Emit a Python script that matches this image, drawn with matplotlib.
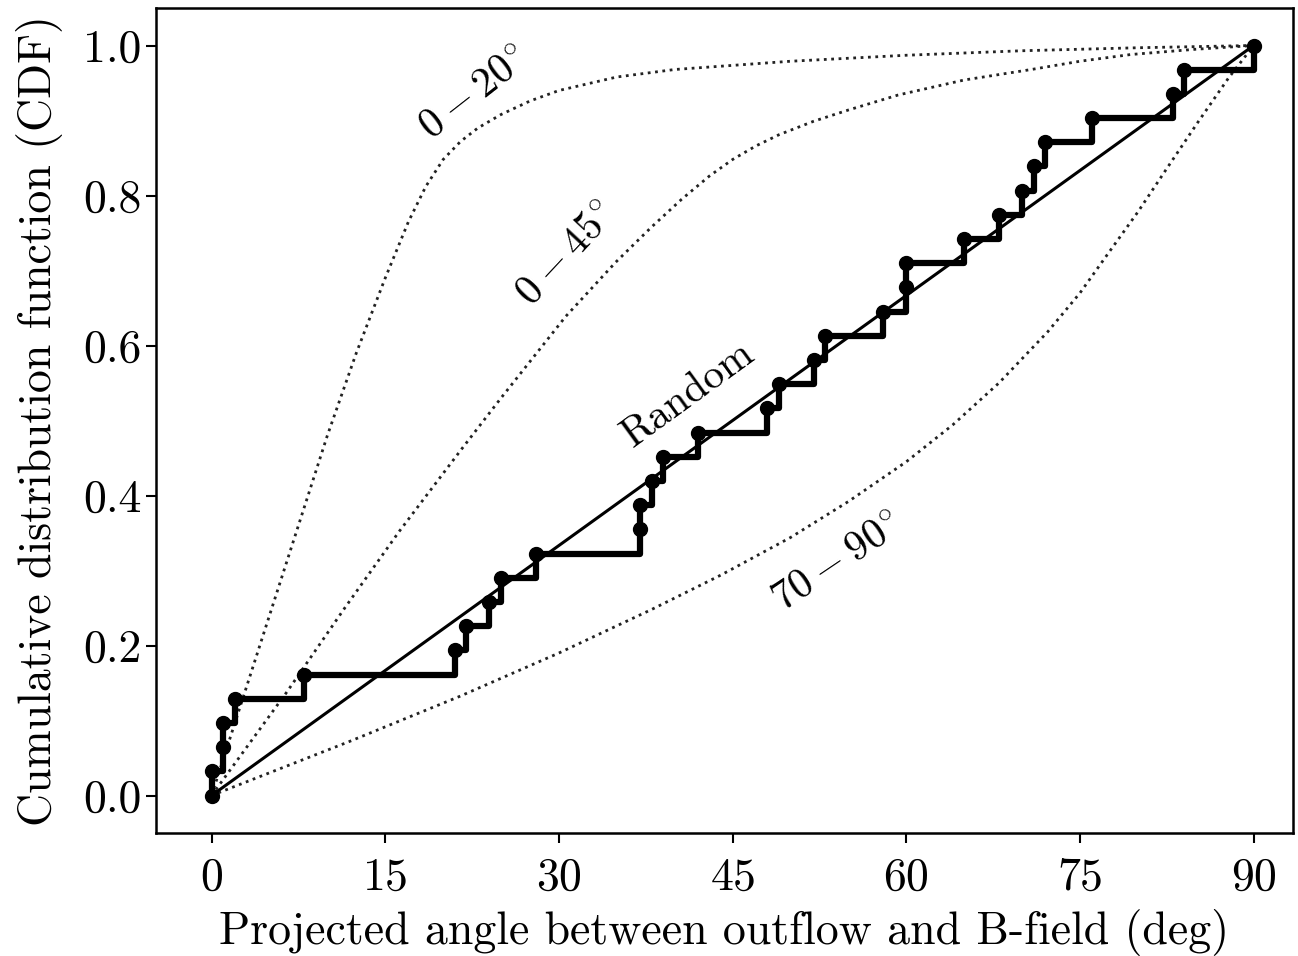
import matplotlib
matplotlib.use("Agg")
import matplotlib.pyplot as plt

plt.rcParams['font.family'] = 'serif'
plt.rcParams['font.serif'] = ['cmr10']
plt.rcParams['mathtext.fontset'] = 'cm'
plt.rcParams['axes.formatter.use_mathtext'] = True

# observed angles (deg) and empirical CDF levels (i/31)
angles = [0, 0, 1, 1, 2, 8, 21, 22, 24, 25, 28, 37, 37, 38, 39, 42,
          48, 49, 52, 53, 58, 60, 60, 65, 68, 70, 71, 72, 76, 83, 84, 90]
cdf = [i / 31 for i in range(32)]

# model curves
x_0_20 = [0, 2.5, 5, 7.5, 10, 12.5, 15, 17, 18.5, 20, 21.5, 23, 25, 27.5, 30, 35, 40, 50,
          60, 70, 80, 90]
y_0_20 = [0, 0.12, 0.24, 0.36, 0.48, 0.59, 0.69, 0.765, 0.812, 0.848, 0.872, 0.89, 0.908,
          0.926, 0.94, 0.958, 0.968, 0.979, 0.987, 0.993, 0.997, 1.0]

x_0_45 = [0, 6.5, 11.5, 16.2, 21.6, 25, 30.6, 34.9, 38, 40.6, 43, 45, 47, 49, 52, 55,
          59.3, 65, 70.8, 75, 79.4, 85, 90]
y_0_45 = [0, 0.138, 0.25, 0.352, 0.462, 0.53, 0.639, 0.711, 0.758, 0.795, 0.826, 0.848,
          0.866, 0.881, 0.899, 0.914, 0.934, 0.954, 0.968, 0.979, 0.988, 0.995, 1.0]

x_70_90 = [0, 11.9, 21.4, 30, 38, 44, 50, 55, 60, 64, 68, 72.2, 75, 77.4, 80, 82.5, 85.2,
           87.8, 90]
y_70_90 = [0, 0.072, 0.132, 0.19, 0.248, 0.294, 0.344, 0.392, 0.445, 0.494, 0.55, 0.618,
           0.67, 0.722, 0.778, 0.836, 0.898, 0.956, 1.0]

fig = plt.figure(figsize=(12.98, 9.56), dpi=100)
ax = fig.add_axes([156 / 1298, 123 / 956, (1293 - 156) / 1298, (833 - 8) / 956])

ax.plot(x_0_20, y_0_20, ':', color='#222222', lw=2)
ax.plot(x_0_45, y_0_45, ':', color='#222222', lw=2)
ax.plot(x_70_90, y_70_90, ':', color='#222222', lw=2)
ax.plot([0, 90], [0, 1], '-', color='k', lw=2.2)
ax.step(angles, cdf, where='post', color='k', lw=4.5)
ax.plot(angles, cdf, 'o', color='k', ms=10)

ax.text(22.7, 0.935, r'$0-20^{\circ}$', rotation=38, fontsize=30, ha='center', va='center')
ax.text(30.7, 0.722, r'$0-45^{\circ}$', rotation=47, fontsize=30, ha='center', va='center')
ax.text(41.2, 0.535, 'Random', rotation=36, fontsize=30, ha='center', va='center')
ax.text(54.1, 0.309, r'$70-90^{\circ}$', rotation=34, fontsize=30, ha='center', va='center')

ax.set_xlim(-4.8, 93.4)
ax.set_ylim(-0.05, 1.05)
ax.set_xticks([0, 15, 30, 45, 60, 75, 90])
ax.set_yticks([0.0, 0.2, 0.4, 0.6, 0.8, 1.0])
ax.set_yticklabels(['0.0', '0.2', '0.4', '0.6', '0.8', '1.0'])
ax.tick_params(labelsize=33, width=1.5, length=7)
ax.tick_params(axis='x', pad=10)
for s in ax.spines.values():
    s.set_linewidth(1.8)

ax.set_xlabel('Projected angle between outflow and B-field (deg)', fontsize=33, labelpad=8)
ax.set_ylabel('Cumulative distribution function (CDF)', fontsize=33, labelpad=14)

fig.savefig('out.png', dpi=100)
